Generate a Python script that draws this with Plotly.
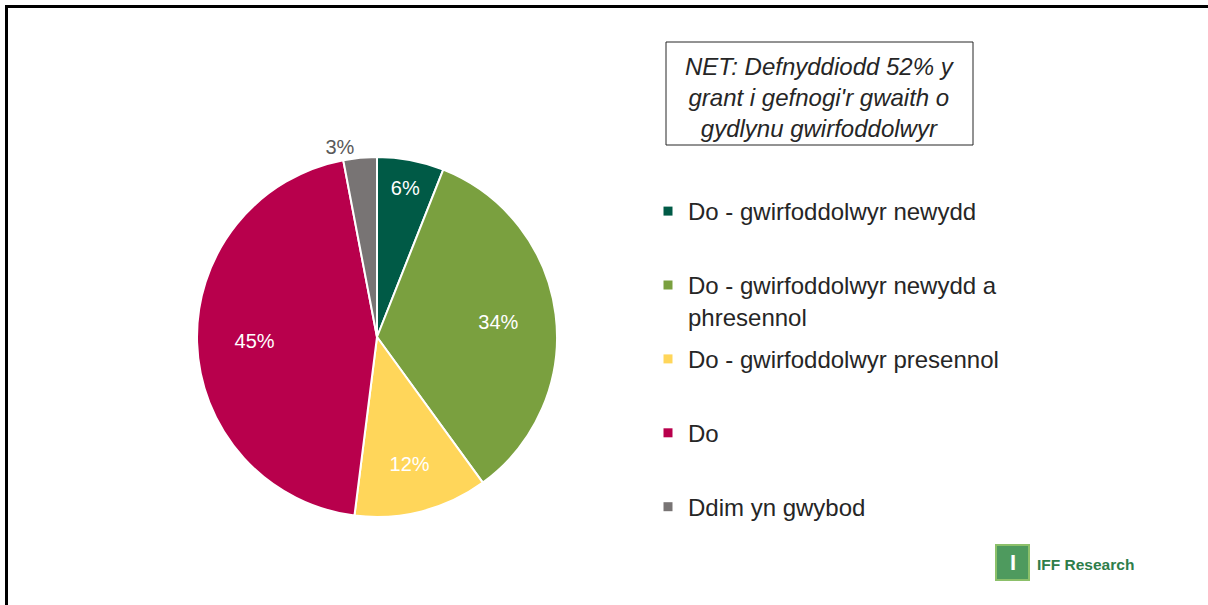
import plotly.graph_objects as go

categories = [
    "Do - gwirfoddolwyr newydd",
    "Do - gwirfoddolwyr newydd a<br>phresennol",
    "Do - gwirfoddolwyr presennol",
    "Do",
    "Ddim yn gwybod",
]
values = [6, 34, 12, 45, 3]
colors = ["#005A46", "#7AA03F", "#FFD65A", "#B8004C", "#787474"]
text_positions = ["inside", "inside", "inside", "inside", "outside"]
net_text = "NET: Defnyddiodd 52% y<br>grant i gefnogi'r gwaith o<br>gydlynu gwirfoddolwyr"

W, H = 1208, 605
FONT = "Liberation Sans, Arial, sans-serif"
pie_domain = dict(x=[196 / W, 558 / W], y=[1 - 517 / H, 1 - 157 / H])

fig = go.Figure()
# full pie with the coloured slices
fig.add_trace(go.Pie(
    labels=categories, values=values, sort=False, direction="clockwise", rotation=0,
    marker=dict(colors=colors, line=dict(color="white", width=2)),
    textinfo="none", domain=pie_domain, showlegend=False, hoverinfo="skip",
))
# transparent ring on top carrying the percentage labels (places them outward)
fig.add_trace(go.Pie(
    labels=categories, values=values, sort=False, direction="clockwise", rotation=0,
    hole=0.36,
    marker=dict(colors=["rgba(0,0,0,0)"] * len(values), line=dict(width=0)),
    texttemplate="%{value}%",
    textposition=text_positions,
    insidetextorientation="horizontal",
    insidetextfont=dict(color="white", size=20, family=FONT),
    outsidetextfont=dict(color="#595959", size=20, family=FONT),
    domain=pie_domain, showlegend=False, hoverinfo="skip",
))

# legend entries
for cat, col in zip(categories, colors):
    n = cat.count("<br>") + 1
    fig.add_trace(go.Scatter(
        x=[None], y=[None], mode="markers", name=cat + "<br> " * (2 - n),
        legendgroup=cat, marker=dict(symbol="square", size=9, color=col),
        hoverinfo="skip",
    ))

fig.update_layout(
    width=W, height=H,
    margin=dict(l=0, r=0, t=0, b=0),
    paper_bgcolor="white",
    plot_bgcolor="white",
    font=dict(family=FONT, color="#262626"),
    xaxis=dict(visible=False),
    yaxis=dict(visible=False),
    showlegend=True,
    legend=dict(
        x=648 / W, y=1 - 189 / H, xanchor="left", yanchor="top",
        font=dict(size=24, family=FONT, color="#262626"),
        valign="top",
        traceorder="grouped",
        tracegroupgap=8.5,
        itemclick=False, itemdoubleclick=False,
        bgcolor="rgba(0,0,0,0)",
    ),
)

shapes = [
    dict(type="line", xref="paper", yref="paper", x0=5 / W, x1=1.0, y0=1 - 6.5 / H, y1=1 - 6.5 / H,
         line=dict(color="black", width=3)),
    dict(type="line", xref="paper", yref="paper", x0=6.5 / W, x1=6.5 / W, y0=0, y1=1 - 5 / H,
         line=dict(color="black", width=3)),
    dict(type="rect", xref="paper", yref="paper", x0=666 / W, x1=973 / W, y0=1 - 145 / H, y1=1 - 42 / H,
         line=dict(color="#262626", width=1), fillcolor="white"),
    # logo mark
    dict(type="rect", xref="paper", yref="paper", x0=996 / W, x1=1029 / W, y0=1 - 580 / H, y1=1 - 545 / H,
         line=dict(color="#8CC06A", width=2), fillcolor="#4E9A5E"),
]

annotations = [
    dict(xref="paper", yref="paper", x=819.5 / W, y=1 - 97.5 / H,
         text="<i>" + net_text + "</i>", showarrow=False, xanchor="center", yanchor="middle",
         font=dict(size=24, family=FONT, color="#262626")),
    dict(xref="paper", yref="paper", x=1012.5 / W, y=1 - 562 / H, text="<b>I</b>", showarrow=False,
         xanchor="center", yanchor="middle", font=dict(size=22, family=FONT, color="white")),
    dict(xref="paper", yref="paper", x=1035 / W, y=1 - 564 / H, text="<b>IFF Research</b>", showarrow=False,
         xanchor="left", yanchor="middle", font=dict(size=15.5, family=FONT, color="#2E7D4A")),
]

fig.update_layout(shapes=shapes, annotations=annotations)
fig.write_html("out.html", config={"displayModeBar": False},
               post_script="document.body.style.margin='0';")
